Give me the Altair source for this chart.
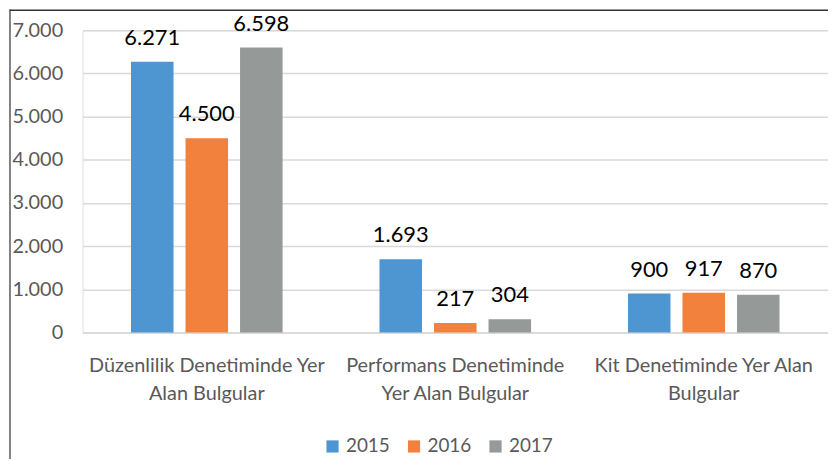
import altair as alt
import pandas as pd

categories = ["Düzenlilik Denetiminde Yer Alan Bulgular",
              "Performans Denetiminde Yer Alan Bulgular",
              "Kit Denetiminde Yer Alan Bulgular"]
category_lines = [["Düzenlilik Denetiminde Yer", "Alan Bulgular"],
                  ["Performans Denetiminde", "Yer Alan Bulgular"],
                  ["Kit Denetiminde Yer Alan", "Bulgular"]]
years = ["2015", "2016", "2017"]
values_2015 = [6271, 1693, 900]
values_2016 = [4500, 217, 917]
values_2017 = [6598, 304, 870]
colors = ["#4E96D2", "#F1813C", "#959998"]
y_ticks = [0, 1000, 2000, 3000, 4000, 5000, 6000, 7000]

rows = []
for yr, vals in zip(years, [values_2015, values_2016, values_2017]):
    for c, v in zip(categories, vals):
        rows.append({"Kategori": c, "Yıl": yr, "Değer": v})
df = pd.DataFrame(rows)

label_map = "{" + ",".join(
    '"%s": [%s]' % (c, ",".join('"%s"' % l for l in lines))
    for c, lines in zip(categories, category_lines)) + "}"

FONT = "Lato"
W, H = 750, 304

x = alt.X("Kategori:N", sort=categories, title=None,
          scale=alt.Scale(paddingInner=0.39, paddingOuter=0.195),
          axis=alt.Axis(labelExpr=label_map + "[datum.value]", labelAngle=0,
                        labelFontSize=20, labelColor="#595959", labelFont=FONT,
                        labelPadding=23, labelLineHeight=29, labelLimit=400,
                        ticks=False, domain=True, domainColor="#D9D9D9",
                        domainWidth=1.5, labelBaseline="top"))
xo = alt.XOffset("Yıl:N", sort=years,
                 scale=alt.Scale(paddingInner=0.22, paddingOuter=0))
y = alt.Y("Değer:Q", title=None,
          scale=alt.Scale(domain=[0, 7000], nice=False),
          axis=alt.Axis(values=y_ticks,
                        labelExpr="replace(format(datum.value, ','), ',', '.')",
                        labelFontSize=20, labelColor="#595959", labelFont=FONT,
                        labelPadding=20, ticks=False, domain=False,
                        grid=True, gridColor="#D9D9D9", gridWidth=1.5))

base = alt.Chart(df)

bars = base.mark_bar().encode(
    x=x, xOffset=xo, y=y,
    color=alt.Color("Yıl:N", sort=years,
                    scale=alt.Scale(domain=years, range=colors),
                    legend=alt.Legend(title=None, orient="none",
                                      direction="horizontal",
                                      legendX=242, legendY=409,
                                      symbolType="square", symbolSize=150,
                                      symbolStrokeWidth=0,
                                      labelFontSize=19, labelColor="#595959",
                                      labelFont=FONT, labelOffset=4,
                                      columnPadding=14)),
)

text = base.mark_text(baseline="alphabetic", dy=-17, fontSize=22,
                      font=FONT, color="#000000").encode(
    x=x, xOffset=xo, y=y,
    text=alt.Text("lbl:N"),
).transform_calculate(
    lbl="replace(format(datum['Değer'], ','), ',', '.')"
)

border_left = alt.Chart(pd.DataFrame({"a": [0]})).mark_rule(
    color="#595959", strokeWidth=1.5).encode(
    x=alt.value(-73), y=alt.value(-21), y2=alt.value(H + 130))
border_top = alt.Chart(pd.DataFrame({"a": [0]})).mark_rule(
    color="#333333", strokeWidth=1.5).encode(
    x=alt.value(-73), x2=alt.value(W + 10), y=alt.value(-20))

chart = alt.layer(bars, text, border_left, border_top).properties(
    width=W, height=H,
    padding={"left": 75, "top": 21, "right": 0, "bottom": 126},
    autosize=alt.AutoSizeParams(type="none"),
).configure_view(stroke=None).configure(font=FONT)

chart.save("out.html", embed_options={"renderer": "svg", "actions": False})
